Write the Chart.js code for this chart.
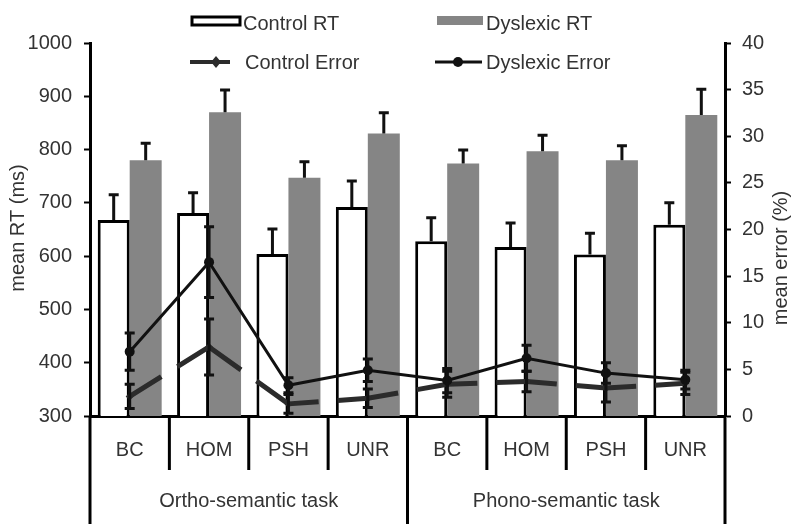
<!DOCTYPE html>
<html>
<head>
<meta charset="utf-8">
<script src="https://cdn.jsdelivr.net/npm/chart.js@4.4.1/dist/chart.umd.min.js"></script>
<style>
  html, body { margin: 0; padding: 0; background: #fff; }
  #wrap { width: 793px; height: 524px; }
</style>
</head>
<body>
<div id="wrap"><canvas id="grafico"></canvas></div>
<script>
// conditions per task (4 per task)
const conditions = ["BC", "HOM", "PSH", "UNR", "BC", "HOM", "PSH", "UNR"];
const tasks = ["Ortho-semantic task", "Phono-semantic task"];

// reaction times (ms) and their SE
const controlRT = [668, 681, 604, 692, 628, 617, 603, 659];
const controlRTErr = [47, 38, 47, 49, 44, 45, 40, 41];
const dyslexicRT = [780, 870, 747, 830, 774, 797, 780, 865];
const dyslexicRTErr = [32, 42, 30, 39, 25, 30, 27, 48];

// error rates (%) and their SE
const controlError = [2.1, 7.4, 1.3, 1.9, 3.4, 3.7, 3.0, 3.5];
const controlErrorSE = [1.3, 3.0, 1.0, 1.0, 1.4, 1.1, 1.5, 1.2];
const dyslexicError = [6.9, 16.5, 3.3, 4.9, 3.8, 6.2, 4.6, 3.9];
const dyslexicErrorSE = [2.0, 3.8, 0.8, 1.2, 1.3, 1.4, 1.1, 1.0];

const FONT = "'Liberation Sans', Arial, sans-serif";
const TEXT = "#333";
const GRAY = "#858585";

// long dashes centred on every point: dash, gap, dash for each segment
function dashPorSegmento(ctx) {
    const len = Math.hypot(ctx.p1.x - ctx.p0.x, ctx.p1.y - ctx.p0.y);
    const gap = 19;
    const dash = Math.max((len - gap) / 2, 1);
    return [dash, gap, dash, 0];
}

// error bars: RT only upwards, error lines both ways
const errorBars = {
    id: "errorBars",
    afterDatasetDraw(chart, args) {
        const ds = chart.data.datasets[args.index];
        if (!ds.errors) return;
        const { ctx } = chart;
        const scale = chart.scales[args.meta.yAxisID];
        ctx.save();
        ctx.strokeStyle = "#111";
        ctx.lineWidth = 3;
        args.meta.data.forEach((el, i) => {
            const v = ds.data[i];
            const e = ds.errors[i];
            const yTop = scale.getPixelForValue(v + e);
            const yBot = ds.upOnly ? el.y : scale.getPixelForValue(v - e);
            const x = el.x;
            ctx.beginPath();
            ctx.moveTo(x, yBot);
            ctx.lineTo(x, yTop);
            ctx.moveTo(x - 5, yTop);
            ctx.lineTo(x + 5, yTop);
            if (!ds.upOnly) {
                ctx.moveTo(x - 5, yBot);
                ctx.lineTo(x + 5, yBot);
            }
            ctx.stroke();
        });
        ctx.restore();
    },
};

// category boxes below the axis, task names, legend and axis titles
const decoracao = {
    id: "decoracao",
    afterDraw(chart) {
        const { ctx, chartArea } = chart;
        const xs = chart.scales.x;
        const n = conditions.length;
        const w = (xs.right - xs.left) / n;
        ctx.save();
        ctx.strokeStyle = "#000";
        ctx.lineWidth = 3;
        for (let i = 0; i <= n; i++) {
            const x = i < n ? xs.getPixelForValue(i) - w / 2 : xs.getPixelForValue(n - 1) + w / 2;
            const full = i % 4 === 0;
            ctx.beginPath();
            ctx.moveTo(x, chartArea.bottom);
            ctx.lineTo(x, full ? chart.height : chartArea.bottom + 54);
            ctx.stroke();
        }

        ctx.fillStyle = TEXT;
        ctx.font = `20px ${FONT}`;
        ctx.textAlign = "center";
        ctx.textBaseline = "middle";
        tasks.forEach((t, k) => {
            const a = xs.getPixelForValue(k * 4) - w / 2;
            const b = xs.getPixelForValue(k * 4 + 3) + w / 2;
            ctx.fillText(t, (a + b) / 2, 501);
        });

        // axis titles
        ctx.save();
        ctx.translate(18, 228);
        ctx.rotate(-Math.PI / 2);
        ctx.fillText("mean RT (ms)", 0, 0);
        ctx.restore();
        ctx.save();
        ctx.translate(781, 258);
        ctx.rotate(-Math.PI / 2);
        ctx.fillText("mean error (%)", 0, 0);
        ctx.restore();

        // legend
        const ds = chart.data.datasets;
        ctx.textAlign = "left";
        ctx.fillStyle = "#fff";
        ctx.fillRect(192, 17, 48, 8);
        ctx.lineWidth = 3;
        ctx.strokeStyle = "#000";
        ctx.strokeRect(192, 17, 48, 8);
        ctx.fillStyle = GRAY;
        ctx.fillRect(437, 16, 46, 9);

        ctx.strokeStyle = "#2b2b2b";
        ctx.lineWidth = 4;
        ctx.beginPath();
        ctx.moveTo(190, 62);
        ctx.lineTo(230, 62);
        ctx.stroke();
        ctx.fillStyle = "#2b2b2b";
        ctx.beginPath();
        ctx.moveTo(216, 56);
        ctx.lineTo(221, 62);
        ctx.lineTo(216, 68);
        ctx.lineTo(211, 62);
        ctx.closePath();
        ctx.fill();

        ctx.strokeStyle = "#111";
        ctx.lineWidth = 3;
        ctx.beginPath();
        ctx.moveTo(435, 62);
        ctx.lineTo(482, 62);
        ctx.stroke();
        ctx.fillStyle = "#111";
        ctx.beginPath();
        ctx.arc(458, 62, 5, 0, Math.PI * 2);
        ctx.fill();

        ctx.fillStyle = TEXT;
        ctx.fillText(ds[0].label, 243, 24);
        ctx.fillText(ds[1].label, 486, 24);
        ctx.fillText(ds[2].label, 245, 63);
        ctx.fillText(ds[3].label, 486, 63);
        ctx.restore();
    },
};

const ctx = document.getElementById("grafico").getContext("2d");

new Chart(ctx, {
    data: {
        labels: conditions,
        datasets: [
            {
                type: "bar",
                label: "Control RT",
                data: controlRT,
                errors: controlRTErr,
                upOnly: true,
                yAxisID: "y",
                backgroundColor: "#fff",
                borderColor: "#000",
                borderWidth: 3,
                order: 2,
            },
            {
                type: "bar",
                label: "Dyslexic RT",
                data: dyslexicRT,
                errors: dyslexicRTErr,
                upOnly: true,
                yAxisID: "y",
                backgroundColor: GRAY,
                borderWidth: 0,
                order: 2,
            },
            {
                type: "line",
                label: "Control Error",
                data: controlError,
                errors: controlErrorSE,
                yAxisID: "y1",
                borderColor: "#2b2b2b",
                borderWidth: 5,
                borderCapStyle: "butt",
                pointStyle: "rectRot",
                pointRadius: 4,
                pointBackgroundColor: "#2b2b2b",
                pointBorderWidth: 0,
                tension: 0,
                segment: { borderDash: dashPorSegmento },
                order: 1,
            },
            {
                type: "line",
                label: "Dyslexic Error",
                data: dyslexicError,
                errors: dyslexicErrorSE,
                yAxisID: "y1",
                borderColor: "#111",
                borderWidth: 3,
                pointStyle: "circle",
                pointRadius: 5,
                pointBackgroundColor: "#111",
                pointBorderWidth: 0,
                tension: 0,
                order: 0,
            },
        ],
    },
    options: {
        responsive: true,
        maintainAspectRatio: false,
        animation: false,
        layout: { padding: { top: 43, left: 0, right: 0, bottom: 0 } },
        datasets: {
            bar: { categoryPercentage: 0.806, barPercentage: 1.0 },
        },
        plugins: {
            legend: { display: false },
            tooltip: { enabled: false },
        },
        scales: {
            x: {
                type: "category",
                offset: true,
                grid: { display: false, drawTicks: false },
                border: { display: true, color: "#000", width: 3 },
                ticks: {
                    color: TEXT,
                    font: { family: FONT, size: 20 },
                    padding: 22,
                    maxRotation: 0,
                    autoSkip: false,
                },
                afterFit: (s) => { s.height = 108; },
            },
            y: {
                position: "left",
                min: 300,
                max: 1000,
                ticks: {
                    stepSize: 100,
                    color: TEXT,
                    font: { family: FONT, size: 20 },
                    padding: 12,
                    callback: (v) => String(v),
                },
                grid: {
                    drawOnChartArea: false,
                    tickLength: 6,
                    tickWidth: 2,
                    color: "#000",
                },
                border: { display: true, color: "#000", width: 3 },
                afterFit: (s) => { s.width = 90; },
            },
            y1: {
                position: "right",
                min: 0,
                max: 40,
                ticks: {
                    stepSize: 5,
                    color: TEXT,
                    font: { family: FONT, size: 20 },
                    padding: 11,
                },
                grid: {
                    drawOnChartArea: false,
                    tickLength: 6,
                    tickWidth: 2,
                    color: "#000",
                },
                border: { display: true, color: "#000", width: 3 },
                afterFit: (s) => { s.width = 68; },
            },
        },
    },
    plugins: [errorBars, decoracao],
});
</script>
</body>
</html>
